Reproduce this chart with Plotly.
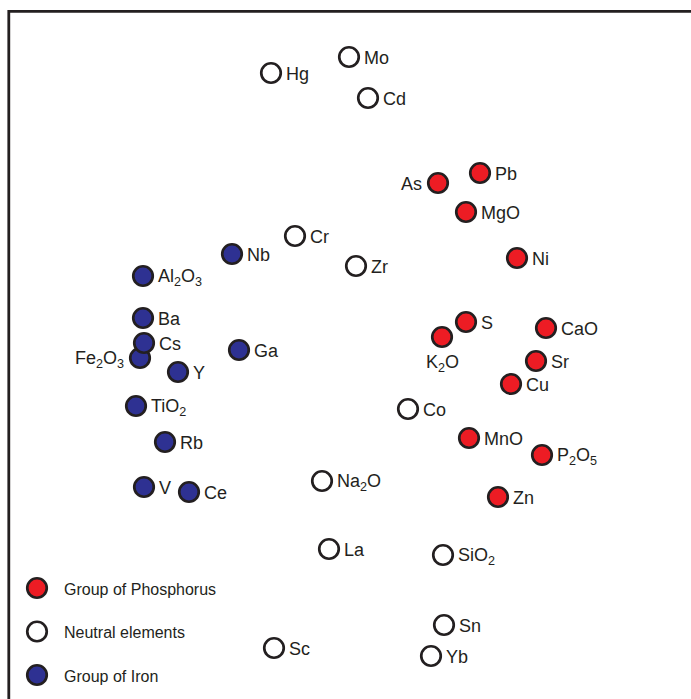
import plotly.graph_objects as go

# Element loadings in the plane of the map (pixel-like units, y grows downward)
phos_labels = ["As", "Pb", "MgO", "Ni", "S", "K<sub>2</sub>O", "CaO", "Sr", "Cu",
               "MnO", "P<sub>2</sub>O<sub>5</sub>", "Zn"]
phos_x = [438, 480, 466, 517, 466, 442, 546, 536, 511, 469, 542, 498]
phos_y = [183, 173, 212, 258, 322, 337, 328, 361, 384, 438, 455, 497]

neutral_labels = ["Mo", "Hg", "Cd", "Cr", "Zr", "Co", "Na<sub>2</sub>O", "La",
                  "SiO<sub>2</sub>", "Sn", "Yb", "Sc"]
neutral_x = [349, 271, 368, 295, 356, 408, 322, 329, 443, 444, 431, 274]
neutral_y = [57, 73, 98, 236, 266, 409, 481, 549, 555, 625, 656, 648]

iron_labels = ["Nb", "Al<sub>2</sub>O<sub>3</sub>", "Ba", "Fe<sub>2</sub>O<sub>3</sub>", "Cs",
               "Y", "Ga", "TiO<sub>2</sub>", "Rb", "V", "Ce"]
iron_x = [232, 143, 143, 140, 144, 178, 239, 136, 165, 144, 189]
iron_y = [254, 276, 318, 358, 343, 372, 350, 406, 442, 487, 492]

legend_names = ["Group of Phosphorus", "Neutral elements", "Group of Iron"]

# Label placement exceptions (default: right of the marker)
label_side = {"As": "left", "Fe<sub>2</sub>O<sub>3</sub>": "left", "K<sub>2</sub>O": "below"}

RED = "#ed1c24"
BLUE = "#2e3192"
WHITE = "#ffffff"
INK = "#231f20"
FONT = "Liberation Sans, Arial, sans-serif"

W, H = 691, 699
MSIZE = 19.5
MLINE = 2.7

fig = go.Figure()
annotations = []

groups = [
    (phos_labels, phos_x, phos_y, RED),
    (neutral_labels, neutral_x, neutral_y, WHITE),
    (iron_labels, iron_x, iron_y, BLUE),
]

for labels, xs, ys, color in groups:
    fig.add_trace(go.Scatter(
        x=xs, y=ys, mode="markers", showlegend=False, hoverinfo="skip",
        marker=dict(size=MSIZE, color=color, line=dict(color=INK, width=MLINE)),
    ))
    for lab, x, y in zip(labels, xs, ys):
        side = label_side.get(lab, "right")
        if side == "right":
            annotations.append(dict(x=x + 14, y=y + 1, text=lab, xanchor="left", yanchor="middle"))
        elif side == "left":
            annotations.append(dict(x=x - 15, y=y + 1, text=lab, xanchor="right", yanchor="middle"))
        else:
            annotations.append(dict(x=x, y=y + 14, text=lab, xanchor="center", yanchor="top"))

# Hand-made legend in the lower-left corner
leg_x0, leg_y0, leg_step = 37, 588, 43.5
for i, (name, color) in enumerate(zip(legend_names, [RED, WHITE, BLUE])):
    ly = leg_y0 + i * leg_step
    fig.add_trace(go.Scatter(
        x=[leg_x0], y=[ly], mode="markers", showlegend=False, hoverinfo="skip",
        marker=dict(size=MSIZE, color=color, line=dict(color=INK, width=MLINE)),
    ))
    annotations.append(dict(x=leg_x0 + 26, y=ly + 1, text=name, xanchor="left",
                            yanchor="middle", font=dict(size=16, color=INK, family=FONT)))

for a in annotations:
    a.setdefault("font", dict(size=18, color=INK, family=FONT))
    a.update(showarrow=False, xref="x", yref="y", borderpad=0)

# Frame: left and top edges, the rest runs off the page
frame = dict(type="path", xref="x", yref="y",
             path=f"M 8.8,{H + 20} L 8.8,11.3 L {W + 20},11.3",
             line=dict(color=INK, width=2.8), layer="below")

fig.update_layout(
    width=W, height=H,
    margin=dict(l=0, r=0, t=0, b=0),
    paper_bgcolor="white", plot_bgcolor="white",
    xaxis=dict(range=[0, W], visible=False, fixedrange=True),
    yaxis=dict(range=[H, 0], visible=False, fixedrange=True),
    annotations=annotations,
    shapes=[frame],
    showlegend=False,
)

fig.write_html("out.html")
